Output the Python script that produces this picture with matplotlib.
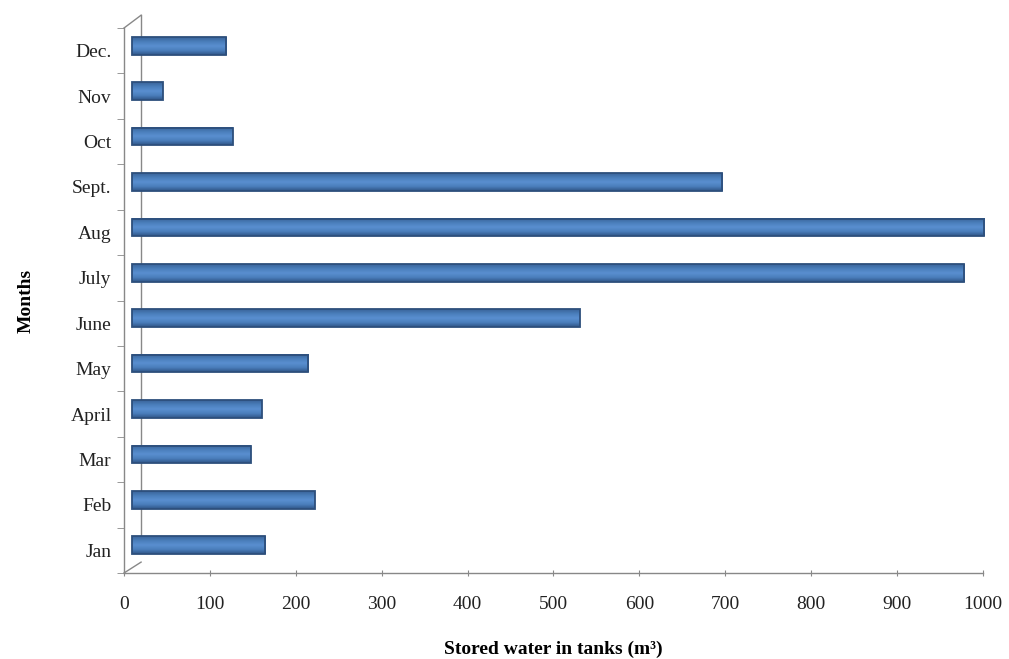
import numpy as np
import matplotlib.pyplot as plt
import matplotlib.transforms as mtransforms
from matplotlib.lines import Line2D
from matplotlib.colors import LinearSegmentedColormap

months = ["Jan", "Feb", "Mar", "April", "May", "June", "July", "Aug",
          "Sept.", "Oct", "Nov", "Dec."]
stored = [155, 213, 138, 151, 205, 521, 969, 992, 687, 117, 36, 110]
x_ticks = [0, 100, 200, 300, 400, 500, 600, 700, 800, 900, 1000]

plt.rcParams["font.family"] = ["Liberation Serif", "DejaVu Serif"]

fig = plt.figure(figsize=(10.09, 6.59), dpi=100)
ax = fig.add_axes([0.1229, 0.1305, 0.8513, 0.8270])

# fake 3D depth: bars sit a bit behind the front axis plane
depth = mtransforms.ScaledTranslation(8 / 100, 5 / 100, fig.dpi_scale_trans)
pos = np.arange(len(months))
bars = ax.barh(pos, stored, height=0.39, color="#4a7ebb",
               edgecolor="#2d4f7c", linewidth=1.3, zorder=3, clip_on=False)

# cylinder-like shading inside each bar
shade = LinearSegmentedColormap.from_list(
    "cyl", ["#2f5587", "#4a7ebb", "#5a8fd0", "#4a7ebb", "#3a6499"])
grad = np.linspace(0, 1, 64).reshape(-1, 1)
for b in bars:
    b.set_transform(ax.transData + depth)
    x0, y0 = b.get_x(), b.get_y()
    w, h = b.get_width(), b.get_height()
    im = ax.imshow(grad, cmap=shade, aspect="auto", origin="lower",
                   extent=[x0, x0 + w, y0, y0 + h], zorder=3.5,
                   interpolation="bilinear", clip_on=False)
    im.set_transform(ax.transData + depth)
    im.set_clip_path(b)
    b.set_facecolor("none")
    b.set_zorder(4)

ax.set_xlim(0, 1000)
ax.set_ylim(-0.5, len(months) - 0.5)
ax.set_xticks(x_ticks)
ax.set_yticks(pos)
ax.set_yticklabels(months)
ax.set_yticks(np.arange(-0.5, len(months), 1), minor=True)
ax.tick_params(axis="y", which="major", length=0, labelsize=14, pad=9,
               labelcolor="#222222")
ax.tick_params(axis="y", which="minor", length=5, color="#888888")
ax.tick_params(axis="x", length=5, direction="inout", color="#888888",
               labelsize=14, pad=14, labelcolor="#222222")

for s in ["top", "right"]:
    ax.spines[s].set_visible(False)
for s in ["left", "bottom"]:
    ax.spines[s].set_color("#888888")
    ax.spines[s].set_linewidth(1.0)

# back wall edges
back = mtransforms.ScaledTranslation(17 / 100, 13 / 100, fig.dpi_scale_trans)
ax.add_line(Line2D([0, 0], [0.02, 1], transform=ax.transAxes + back,
                   color="#888888", lw=1.0, clip_on=False))
ax.add_line(Line2D([0.0, 0.0199], [1, 1.0235], transform=ax.transAxes,
                   color="#888888", lw=1.0, clip_on=False))
ax.add_line(Line2D([0.0, 0.0199], [0.0, 0.02], transform=ax.transAxes,
                   color="#888888", lw=1.0, clip_on=False))

ax.set_xlabel("Stored water in tanks (m³)", fontsize=14, fontweight="bold",
              labelpad=20)
ax.set_ylabel("Months", fontsize=14, fontweight="bold", labelpad=26)

fig.savefig("out.png", dpi=100)
